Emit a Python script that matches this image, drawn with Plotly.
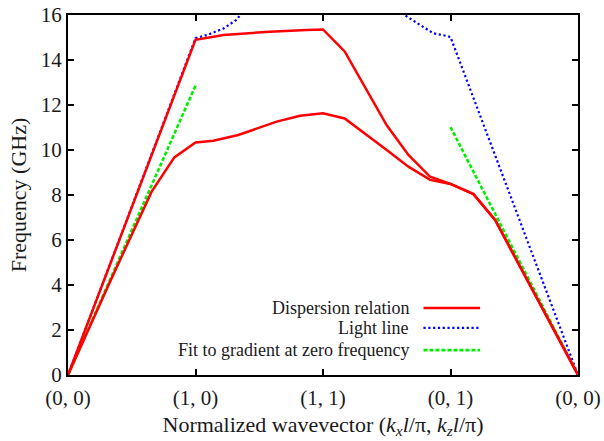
import plotly.graph_objects as go

# ---- data ----
tick_pos = [0, 1, 2, 3, 4]
tick_text = ["(0, 0)", "(1, 0)", "(1, 1)", "(0, 1)", "(0, 0)"]

band_upper_x = [0, 1.0, 1.22, 1.58, 1.87, 2.0, 2.17, 2.5, 2.67, 2.84, 3.0, 3.18, 3.35, 4.0]
band_upper_y = [0, 14.9, 15.11, 15.26, 15.33, 15.36, 14.38, 11.1, 9.78, 8.81, 8.49, 8.04, 6.89, 0]

band_lower_x = [0, 0.33, 0.656, 0.834, 1.0, 1.14, 1.336, 1.637, 1.82, 2.0, 2.17, 2.34, 2.5, 2.67, 2.84, 3.0, 3.18, 3.35, 4.0]
band_lower_y = [0, 4.15, 8.15, 9.67, 10.33, 10.41, 10.67, 11.26, 11.52, 11.63, 11.4, 10.7, 10.0, 9.26, 8.67, 8.49, 8.04, 6.89, 0]

light_left_x = [0, 1.0, 1.09, 1.22, 1.32, 1.38]
light_left_y = [0, 14.97, 15.11, 15.4, 15.78, 16.2]
light_right_x = [2.6, 2.64, 2.76, 2.865, 2.97, 3.0, 4.0]
light_right_y = [16.3, 16.0, 15.56, 15.19, 15.07, 15.02, 0]

fit_left_x = [0, 1.0]
fit_left_y = [0, 12.86]
fit_right_x = [3.0, 4.0]
fit_right_y = [11.02, 0]

legend_labels = ["Dispersion relation", "Light line", "Fit to gradient at zero frequency"]

RED = "#ff0000"
BLUE = "#0000ff"
GREEN = "#00ee00"
FONT = "Liberation Serif"
TXT = "#1a1a1a"

red_line = dict(color=RED, width=2.5)
blue_line = dict(color=BLUE, width=2.2, dash="2.2px,2.6px")
green_line = dict(color=GREEN, width=2.6, dash="4px,2px")

fig = go.Figure()
for xs, ys in [(light_left_x, light_left_y), (light_right_x, light_right_y)]:
    fig.add_trace(go.Scatter(x=xs, y=ys, mode="lines", line=blue_line, showlegend=False, hoverinfo="skip"))
for xs, ys in [(fit_left_x, fit_left_y), (fit_right_x, fit_right_y)]:
    fig.add_trace(go.Scatter(x=xs, y=ys, mode="lines", line=green_line, showlegend=False, hoverinfo="skip"))
for xs, ys in [(band_upper_x, band_upper_y), (band_lower_x, band_lower_y)]:
    fig.add_trace(go.Scatter(x=xs, y=ys, mode="lines", line=red_line, showlegend=False, hoverinfo="skip"))

# manual legend (text, then the sample line to its right)
leg_y = [0.186, 0.131, 0.069]
leg_styles = [red_line, blue_line, green_line]
for lab, yy, st in zip(legend_labels, leg_y, leg_styles):
    fig.add_annotation(x=0.673, y=yy, xref="paper", yref="paper", text=lab,
                       showarrow=False, xanchor="right", yanchor="middle",
                       font=dict(family=FONT, size=18, color=TXT))
    fig.add_shape(type="line", xref="paper", yref="paper", x0=0.697, x1=0.808, y0=yy, y1=yy,
                  line=st)

axis_common = dict(showline=True, linecolor="black", linewidth=2, mirror="ticks",
                   ticks="inside", ticklen=6, tickwidth=1.5, tickcolor="black",
                   showgrid=False, zeroline=False, automargin=False,
                   tickfont=dict(family=FONT, size=21, color=TXT))

fig.update_xaxes(range=[0, 4], tickmode="array", tickvals=tick_pos, ticktext=tick_text,
                 ticklabelstandoff=3,
                 title=dict(text="Normalized wavevector (<i>k<sub>x</sub>l</i>/π, <i>k<sub>z</sub>l</i>/π)",
                            font=dict(family=FONT, size=22, color=TXT), standoff=7),
                 **axis_common)
fig.update_yaxes(range=[0, 16], tickmode="array", tickvals=list(range(0, 17, 2)),
                 title=dict(text="Frequency (GHz)", font=dict(family=FONT, size=22, color=TXT),
                            standoff=8),
                 **axis_common)

fig.update_layout(width=604, height=441, margin=dict(l=68, r=26, t=15, b=66),
                  plot_bgcolor="white", paper_bgcolor="white", showlegend=False)

fig.write_html("out.html", config={"displayModeBar": False},
               post_script="document.body.style.margin='0';")
